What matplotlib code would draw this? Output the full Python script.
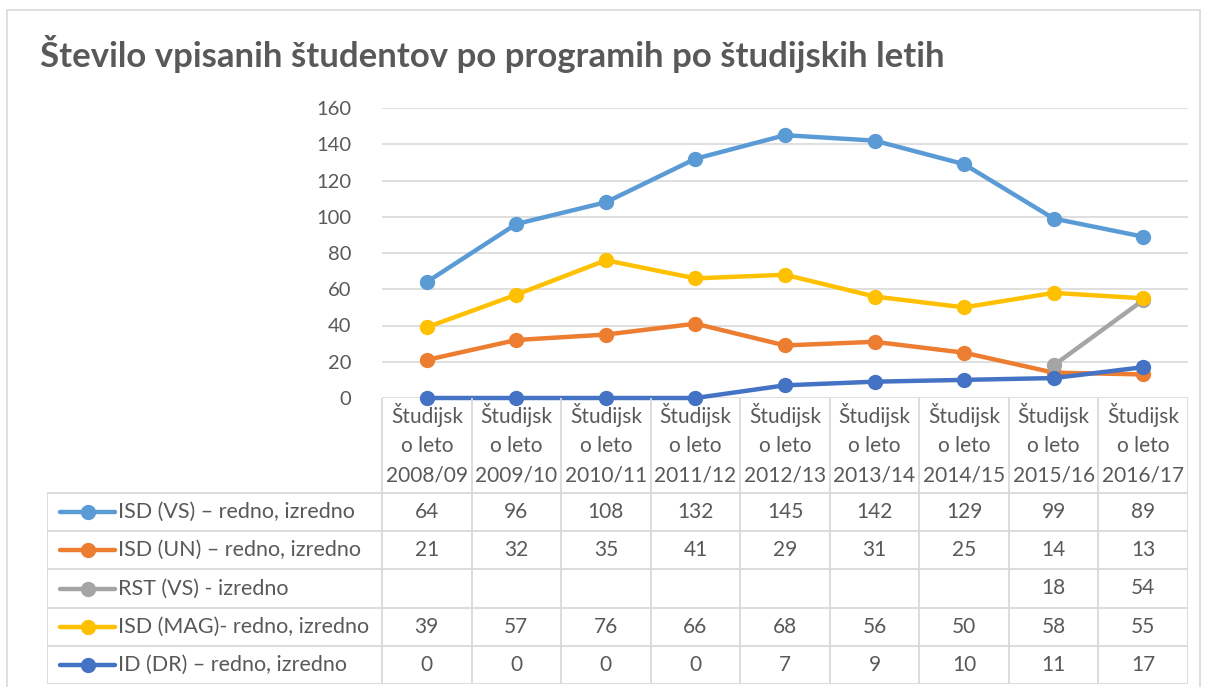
import numpy as np
import matplotlib
matplotlib.use("Agg")
import matplotlib.pyplot as plt
from matplotlib.patches import Rectangle
from matplotlib.lines import Line2D

plt.rcParams['font.family'] = ['Lato', 'DejaVu Sans']

years = ['2008/09', '2009/10', '2010/11', '2011/12', '2012/13',
         '2013/14', '2014/15', '2015/16', '2016/17']
names = ['ISD (VS) \u2013 redno, izredno', 'ISD (UN) \u2013 redno, izredno',
         'RST (VS) - izredno', 'ISD (MAG)- redno, izredno',
         'ID (DR) \u2013 redno, izredno']
isd_vs = [64, 96, 108, 132, 145, 142, 129, 99, 89]
isd_un = [21, 32, 35, 41, 29, 31, 25, 14, 13]
rst_vs = [None, None, None, None, None, None, None, 18, 54]
isd_mag = [39, 57, 76, 66, 68, 56, 50, 58, 55]
id_dr = [0, 0, 0, 0, 7, 9, 10, 11, 17]
series = [isd_vs, isd_un, rst_vs, isd_mag, id_dr]
colors = ['#5B9BD5', '#ED7D31', '#A5A5A5', '#FFC000', '#4472C4']

W, H = 1206, 687
TXT = '#595959'
GRID = '#D9D9D9'
FS = 15
fig = plt.figure(figsize=(W / 100, H / 100), dpi=100)

def fx(px):
    return px / W

def fy(py):
    return 1 - py / H

# chart border
fig.patches.append(Rectangle((fx(7), fy(700)), fx(1200) - fx(7), fy(10) - fy(700),
                             transform=fig.transFigure, fill=False,
                             edgecolor=GRID, lw=1.2))

fig.text(fx(40), fy(54), 'Število vpisanih študentov po programih po študijskih letih',
         fontsize=25, fontweight='bold', color=TXT, va='center', ha='left')

# main plot
x0, x1, ytop, ybot = 382, 1188, 108, 398
ax = fig.add_axes([fx(x0), fy(ybot), fx(x1) - fx(x0), fy(ytop) - fy(ybot)])
ax.set_xlim(-0.5, 8.5)
ax.set_ylim(0, 160)
ax.set_yticks(range(0, 161, 20))
ax.set_xticks([])
for s in ax.spines.values():
    s.set_visible(False)
ax.grid(axis='y', color=GRID, lw=1.2)
ax.tick_params(axis='y', length=0, labelsize=14.5, labelcolor=TXT, pad=22)
ax.set_axisbelow(True)
xs = np.arange(len(years))
for vals, c in zip(series, colors):
    v = np.array([np.nan if a is None else a for a in vals], dtype=float)
    ax.plot(xs, v, color=c, lw=3.2, marker='o', markersize=10, clip_on=False,
            solid_capstyle='round', zorder=3)

# data table
tx0, tbot = 47, 684
colw = (x1 - x0) / 9
leg_w = (x0 - tx0) / colw
at = fig.add_axes([fx(tx0), fy(tbot), fx(x1) - fx(tx0), fy(ybot) - fy(tbot)])
at.set_xlim(-0.5 - leg_w, 8.5)
at.set_ylim(tbot, ybot)
at.axis('off')

hdr_bot = 493
row_h = (tbot - hdr_bot) / 5
lk = dict(color=GRID, lw=1.3, solid_capstyle='butt')
# vertical lines
for i in range(10):
    at.plot([i - 0.5, i - 0.5], [ybot, tbot], **lk)
at.plot([-0.5 - leg_w, -0.5 - leg_w], [hdr_bot, tbot], **lk)
# horizontal lines
for r in range(6):
    yy = hdr_bot + r * row_h
    at.plot([-0.5 - leg_w, 8.5], [yy, yy], **lk)

# header
for i, yr in enumerate(years):
    for k, line in enumerate(['Študijsk', 'o leto', yr]):
        at.text(i, 415 + k * 30.5, line, ha='center', va='center',
                fontsize=FS, color=TXT)

# rows
px = 1 / colw
for r, (name, vals, c) in enumerate(zip(names, series, colors)):
    yc = hdr_bot + (r + 0.5) * row_h
    lx0 = -0.5 - leg_w + 13 * px
    lx1 = lx0 + 55 * px
    at.add_line(Line2D([lx0, lx1], [yc, yc], color=c, lw=3.2,
                       solid_capstyle='round'))
    at.plot([(lx0 + lx1) / 2], [yc], 'o', color=c, markersize=10)
    at.text(lx1 + 3 * px, yc, name, ha='left', va='center', fontsize=15.5, color=TXT)
    for i, v in enumerate(vals):
        if v is not None:
            at.text(i, yc, str(v), ha='center', va='center', fontsize=FS, color=TXT)

fig.savefig('out.png', dpi=100)
